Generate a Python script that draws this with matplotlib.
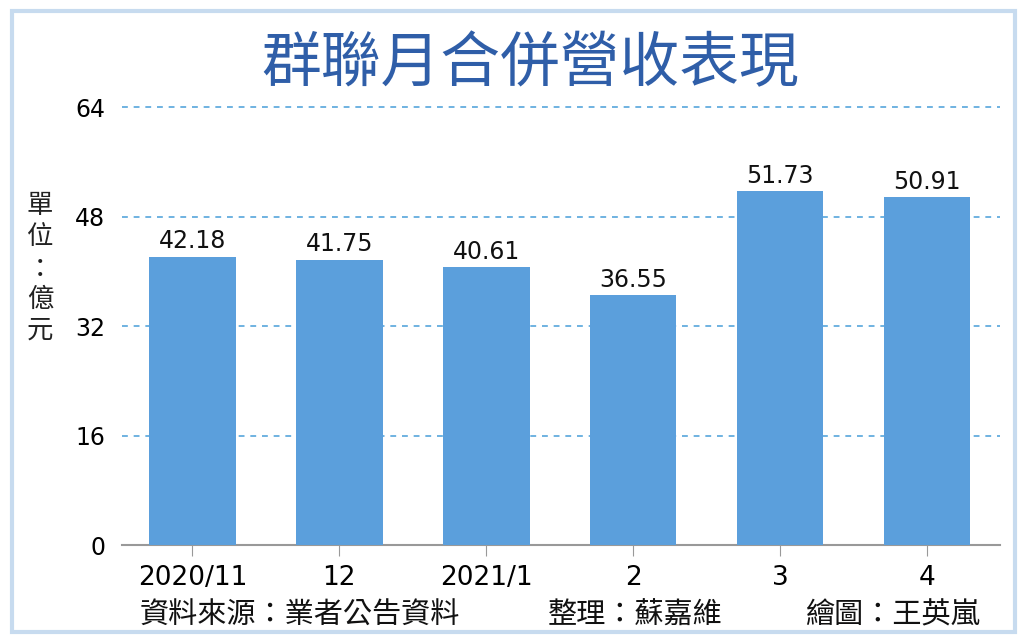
import matplotlib
matplotlib.use("Agg")
from matplotlib import pyplot as plt
from matplotlib.patches import Rectangle

plt.rcParams['font.family'] = ['Noto Sans CJK TC', 'DejaVu Sans']

months = ["2020/11", "12", "2021/1", "2", "3", "4"]
revenue = [42.18, 41.75, 40.61, 36.55, 51.73, 50.91]
yticks = [0, 16, 32, 48, 64]

bar_color = "#5b9fdc"
title_color = "#2f5ea8"
grid_color = "#56a6dc"

fig = plt.figure(figsize=(10.24, 6.43), dpi=100)
fig.patches.append(Rectangle((12 / 1024, 11 / 643), 1003 / 1024, 621 / 643,
                             transform=fig.transFigure, fill=False,
                             edgecolor="#c7dbef", linewidth=3))

ax = fig.add_axes([0.119, 0.152, 0.858, 0.681])
x = range(len(months))
ax.bar(x, revenue, width=0.59, color=bar_color, zorder=3)
for xi, v in zip(x, revenue):
    ax.text(xi, v + 0.5, "{:.2f}".format(v), ha="center", va="bottom",
            fontsize=17, family="DejaVu Sans", color="#111111", zorder=4)

ax.set_ylim(0, 64)
ax.set_xlim(-0.48, 5.5)
ax.set_yticks(yticks)
ax.set_yticklabels([str(t) for t in yticks], fontsize=17, family="DejaVu Sans")
ax.set_xticks(list(x))
ax.set_xticklabels(months, fontsize=19, family="DejaVu Sans")
ax.tick_params(axis="y", length=0, pad=12)
ax.tick_params(axis="x", length=8, color="#999999", pad=6)
for t in yticks[1:]:
    ax.axhline(t, color=grid_color, linestyle=(0, (3.5, 3.5)), linewidth=1.2,
               zorder=1, clip_on=False)
for s in ["top", "right", "left"]:
    ax.spines[s].set_visible(False)
ax.spines["bottom"].set_color("#999999")
ax.spines["bottom"].set_linewidth(1.5)

fig.text(0.518, 0.899, "群聯月合併營收表現", ha="center", va="center",
         fontsize=43, fontweight="medium", color=title_color)
fig.text(0.039, 0.583, "單\n位\n：\n億\n元", ha="center", va="center",
         fontsize=19, linespacing=1.2, color="#222222")

fig.text(0.136, 0.043, "資料來源：業者公告資料", fontsize=21, va="center", color="#111111")
fig.text(0.535, 0.043, "整理：蘇嘉維", fontsize=21, va="center", color="#111111")
fig.text(0.786, 0.043, "繪圖：王英嵐", fontsize=21, va="center", color="#111111")

fig.savefig("out.png", dpi=100)
